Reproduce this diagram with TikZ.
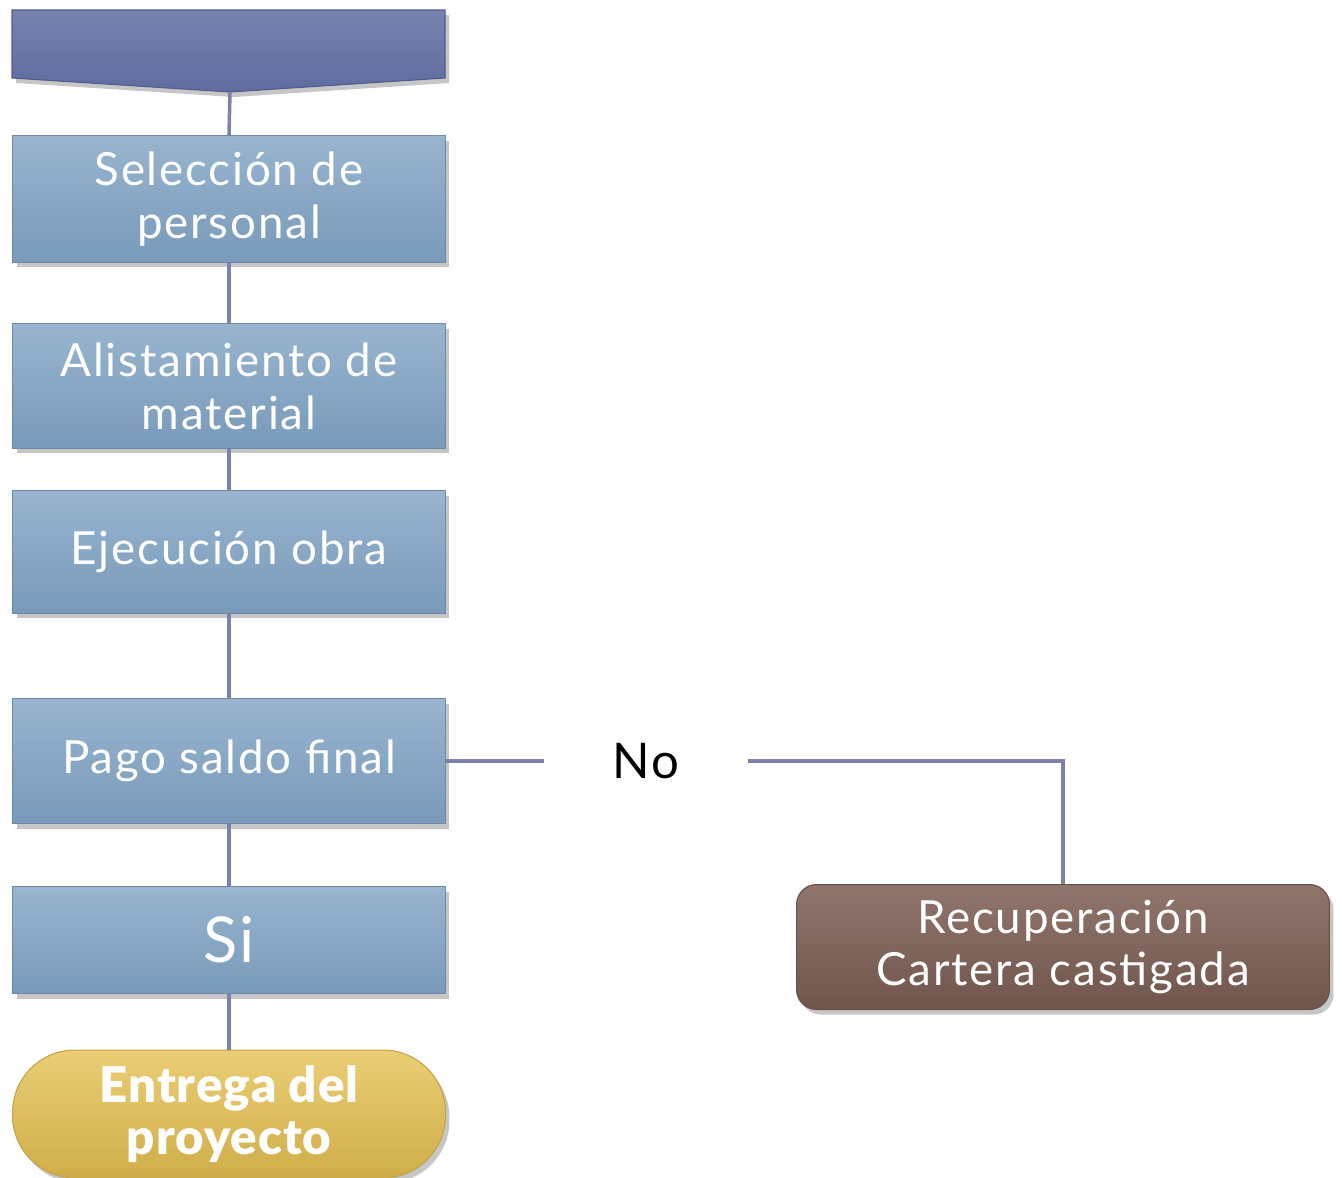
\documentclass[tikz,border=0pt]{standalone}
\usepackage{fontspec}
\setmainfont{Lato}[LetterSpace=4]
\newfontfamily\heavyfont{Lato Black}[LetterSpace=2]
\usetikzlibrary{calc,shadows}
\definecolor{FlowHead}{HTML}{5F6CA0}
\definecolor{FlowStep}{HTML}{7FA2C3}
\definecolor{FlowEnd}{HTML}{E6C152}
\definecolor{FlowBack}{HTML}{7B5D53}
\definecolor{FlowLine}{HTML}{7C82AA}

\begin{document}
\begin{tikzpicture}[
    x=0.02cm, y=-0.02cm,
    stepbox/.style={minimum width=8.66cm, inner sep=0pt, align=center,
        text=white, font=\fontsize{26}{30}\selectfont,
        top color=FlowStep!80!white, bottom color=FlowStep!95!black,
        draw=FlowStep!85!black, line width=0.6pt,
        drop shadow={opacity=0.45, shadow xshift=0.08cm, shadow yshift=-0.1cm}},
    conn/.style={draw=FlowLine, line width=2pt}
 ]
\useasboundingbox (0,0) rectangle (1342,1177);

% header banner
\draw [top color=FlowHead!85!white, bottom color=FlowHead, draw=FlowHead!85!black,
       line width=0.6pt,
       drop shadow={opacity=0.45, shadow xshift=0.08cm, shadow yshift=-0.1cm}]
    (12,10) -- (445,10) -- (445,78) -- (230,92) -- (12,78) -- cycle;
\coordinate (head) at (230,92);

\node[stepbox, minimum height=2.54cm] (sel) at (229,199) {Selección de\\personal};
\node[stepbox, minimum height=2.50cm] (alist) at (229,386) {Alistamiento de\\material};
\node[stepbox, minimum height=2.46cm] (ejec) at (229,552) {Ejecución obra};
\node[stepbox, minimum height=2.50cm] (pago) at (229,761) {Pago saldo final};
\node[stepbox, minimum height=2.14cm, font=\fontsize{36}{40}\selectfont] (si) at (229,940) {Si};
\node[stepbox, minimum height=2.56cm, rounded corners=1.25cm,
      top color=FlowEnd!80!white, bottom color=FlowEnd!90!black, draw=FlowEnd!85!black,
      font=\heavyfont\fontsize{28}{30}\selectfont] (entrega) at (229,1114) {Entrega del\\proyecto};

\node[minimum width=4.06cm, inner sep=0pt, font=\fontsize{28}{30}\selectfont] (no) at (646,761) {No};
\node[stepbox, minimum width=10.66cm, minimum height=2.5cm, rounded corners=0.4cm,
      top color=FlowBack!85!white, bottom color=FlowBack!92!black, draw=FlowBack!85!black] (recup) at (1063,947) {Recuperación\\Cartera castigada};

\begin{scope}[on background layer/.try]
\draw[conn] (head) -- (sel.north);
\draw[conn] (sel.south) -- (alist.north);
\draw[conn] (alist.south) -- (ejec.north);
\draw[conn] (ejec.south) -- (pago.north);
\draw[conn] (pago.south) -- (si.north);
\draw[conn] (si.south) -- (entrega.north);
\draw[conn] (pago.east) -- (no.west);
\draw[conn] (no.east) -| (recup.north);
\end{scope}

\end{tikzpicture}
\end{document}
